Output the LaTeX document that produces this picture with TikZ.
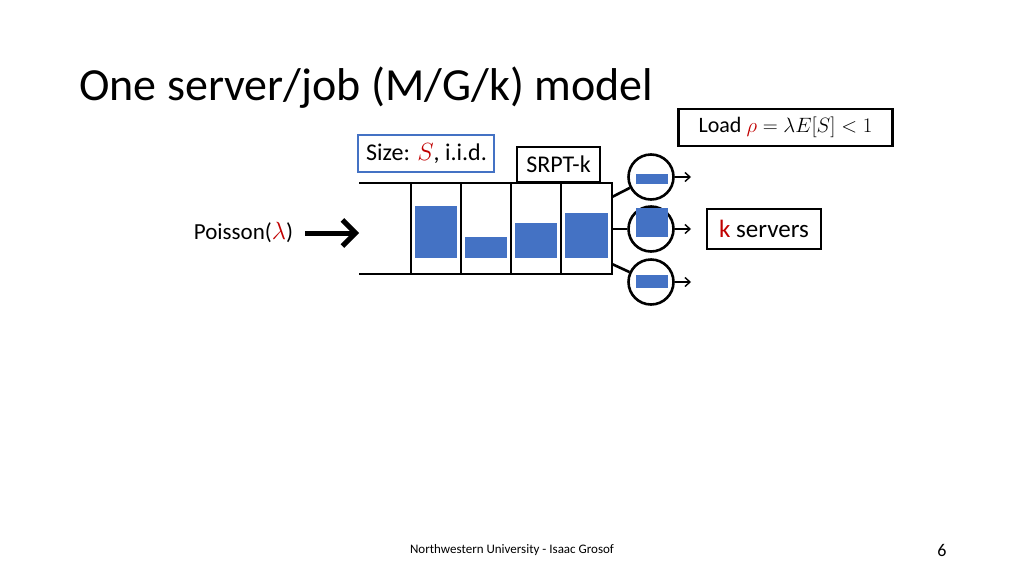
\documentclass[tikz,border=0pt]{standalone}
\usepackage{fontspec}
\setmainfont{Carlito}
\usetikzlibrary{arrows.meta}
\definecolor{myred}{HTML}{C00000}
\definecolor{myblue}{HTML}{4472C4}
\tikzset{
  job/.style={fill=myblue, draw=none},
  server/.style={circle, draw=black, line width=2.6pt, minimum size=45pt, inner sep=0pt},
  qline/.style={line width=2.8pt},
  link/.style={line width=2.6pt},
  outarrow/.style={-{Straight Barb[length=5pt,width=9pt,line width=1.4pt]}, line width=1.4pt},
  tbox/.style={draw=black, line width=2.5pt, inner sep=0pt}
}
\begin{document}
\begin{tikzpicture}[x=1pt,y=-1pt]
\useasboundingbox (0,0) rectangle (1024,576);
% title
\node[anchor=base west, inner sep=0pt, font=\fontsize{46}{52}\selectfont] (title) at (79,100) {One server/job (M/G/k) model};
% load box
\node[tbox, minimum width=214pt, minimum height=37pt, font=\fontsize{22}{26}\selectfont] (load) at (785.5,127.5) {Load \textcolor{myred}{$\rho$}$\;=\lambda E[S]<1$};
% size box
\node[tbox, draw=myblue, minimum width=136pt, minimum height=37pt] (size) at (426,153.5) {};
\node[anchor=west, inner sep=0pt, font=\fontsize{24}{28}\selectfont] (sizet) at (366,153.5) {Size: \textcolor{myred}{$S$}, i.i.d.};
% SRPT box
\node[tbox, minimum width=83pt, minimum height=35pt, font=\fontsize{24}{28}\selectfont] (srpt) at (558.5,164.5) {SRPT-k};
% queue
\coordinate (qtl) at (359,183);
\coordinate (qbl) at (359,274);
\coordinate (c0t) at (411,183);
\coordinate (c0b) at (411,274);
\draw[qline] (qtl) -- (c0t);
\draw[qline] (qbl) -- (c0b);
\draw[qline] (411,183) rectangle (612,274);
\foreach \x in {461,511,561} \draw[qline] (\x,183) -- (\x,274);
% jobs in queue
\fill[job] (415,206) rectangle (457,258);
\fill[job] (465,237) rectangle (507,258);
\fill[job] (515,223) rectangle (557,258);
\fill[job] (565,213) rectangle (608,258);
% servers
\node[server] (s1) at (651,177) {};
\node[server] (s2) at (651,229) {};
\node[server] (s3) at (651,282) {};
\fill[job] (636,174) rectangle (668,184);
\fill[job] (636,208) rectangle (668,237);
\fill[job] (636,275) rectangle (668,288);
% links
\coordinate (o1) at (612,197);
\coordinate (o2) at (612,229);
\coordinate (o3) at (612,264);
\draw[link] (o1) -- (s1);
\draw[link] (o2) -- (s2);
\draw[link] (o3) -- (s3);
% output arrows
\coordinate (e1) at (691,177);
\coordinate (e2) at (691,229);
\coordinate (e3) at (691,282);
\draw[outarrow] (s1.east) -- (e1);
\draw[outarrow] (s2.east) -- (e2);
\draw[outarrow] (s3.east) -- (e3);
% k servers
\node[tbox, minimum width=114pt, minimum height=40pt, font=\fontsize{25}{29}\selectfont] (ks) at (764,229) {\textcolor{myred}{k} servers};
% poisson
\node[inner sep=0pt, font=\fontsize{23}{26}\selectfont] (poi) at (243.5,232) {Poisson(\textcolor{myred}{$\lambda$})};
\coordinate (pa) at (305,233);
\coordinate (pb) at (359,233);
\draw[line width=5pt, -{Straight Barb[length=13pt,width=26pt,line width=5pt]}] (pa) -- (pb);
% footer
\node[inner sep=0pt, font=\fontsize{13}{15}\selectfont] (foot) at (512,550) {Northwestern University - Isaac Grosof};
\node[inner sep=0pt, font=\fontsize{18}{20}\selectfont] (pg) at (942,550) {6};
\end{tikzpicture}
\end{document}
